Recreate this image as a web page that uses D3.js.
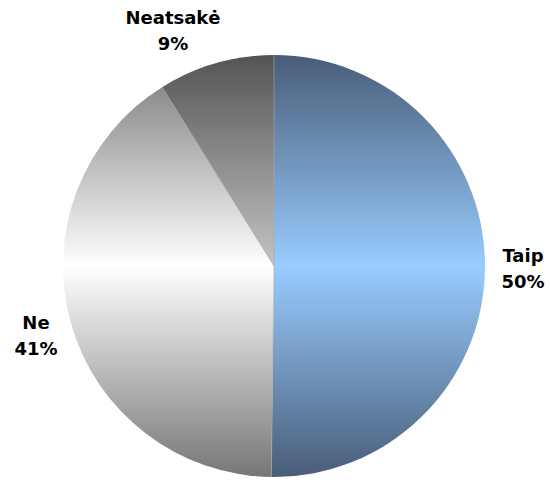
<!DOCTYPE html>
<html><head><meta charset="utf-8">
<script src="https://cdn.jsdelivr.net/npm/d3@7"></script>
<style>html,body{margin:0;padding:0;background:#fff}</style>
</head><body>
<svg id="c" width="550" height="480"></svg>
<script>
const categories = ["Taip", "Ne", "Neatsakė"];
const values = [50.2, 40.9, 8.9];
const labels = ["50%", "41%", "9%"];
const darkColors = ["#485d78", "#767676", "#545454"];
const lightColors = ["#99ccff", "#ffffff", "#c4c4c4"];

const W = 550, H = 480, cx = 274, cy = 266, R = 211;
const svg = d3.select("#c");
const defs = svg.append("defs");
categories.forEach((c, i) => {
  const g = defs.append("linearGradient").attr("id", "g" + i)
    .attr("gradientUnits", "userSpaceOnUse")
    .attr("x1", 0).attr("y1", -R).attr("x2", 0).attr("y2", R);
  g.append("stop").attr("offset", "0%").attr("stop-color", darkColors[i]);
  g.append("stop").attr("offset", "50%").attr("stop-color", lightColors[i]);
  g.append("stop").attr("offset", "100%").attr("stop-color", darkColors[i]);
});

const pie = d3.pie().sort(null).value(d => d);
const arcs = pie(values);
const arc = d3.arc().innerRadius(0).outerRadius(R);
const gMain = svg.append("g").attr("transform", `translate(${cx},${cy})`);
gMain.selectAll("path").data(arcs).join("path")
  .attr("d", arc)
  .attr("fill", (d, i) => `url(#g${i})`)
  .attr("stroke", "none");
// faint separators between slices
gMain.selectAll("line").data(arcs).join("line")
  .attr("x1", 0).attr("y1", 0)
  .attr("x2", d => R * Math.sin(d.startAngle))
  .attr("y2", d => -R * Math.cos(d.startAngle))
  .attr("stroke", "#a8a8a8").attr("stroke-width", 0.6);

const labelPos = [
  {x: 523, y: 255},
  {x: 36, y: 322},
  {x: 173, y: 17}
];
const tg = svg.append("g").attr("font-family", "DejaVu Sans, Verdana, sans-serif")
  .attr("font-weight", "bold").attr("font-size", 18).attr("fill", "#000")
  .attr("text-anchor", "middle");
categories.forEach((c, i) => {
  const t = tg.append("text").attr("x", labelPos[i].x).attr("y", labelPos[i].y)
    .attr("dominant-baseline", "central");
  t.append("tspan").attr("x", labelPos[i].x).text(c);
  t.append("tspan").attr("x", labelPos[i].x).attr("dy", 26).text(labels[i]);
});
</script>
</body></html>
